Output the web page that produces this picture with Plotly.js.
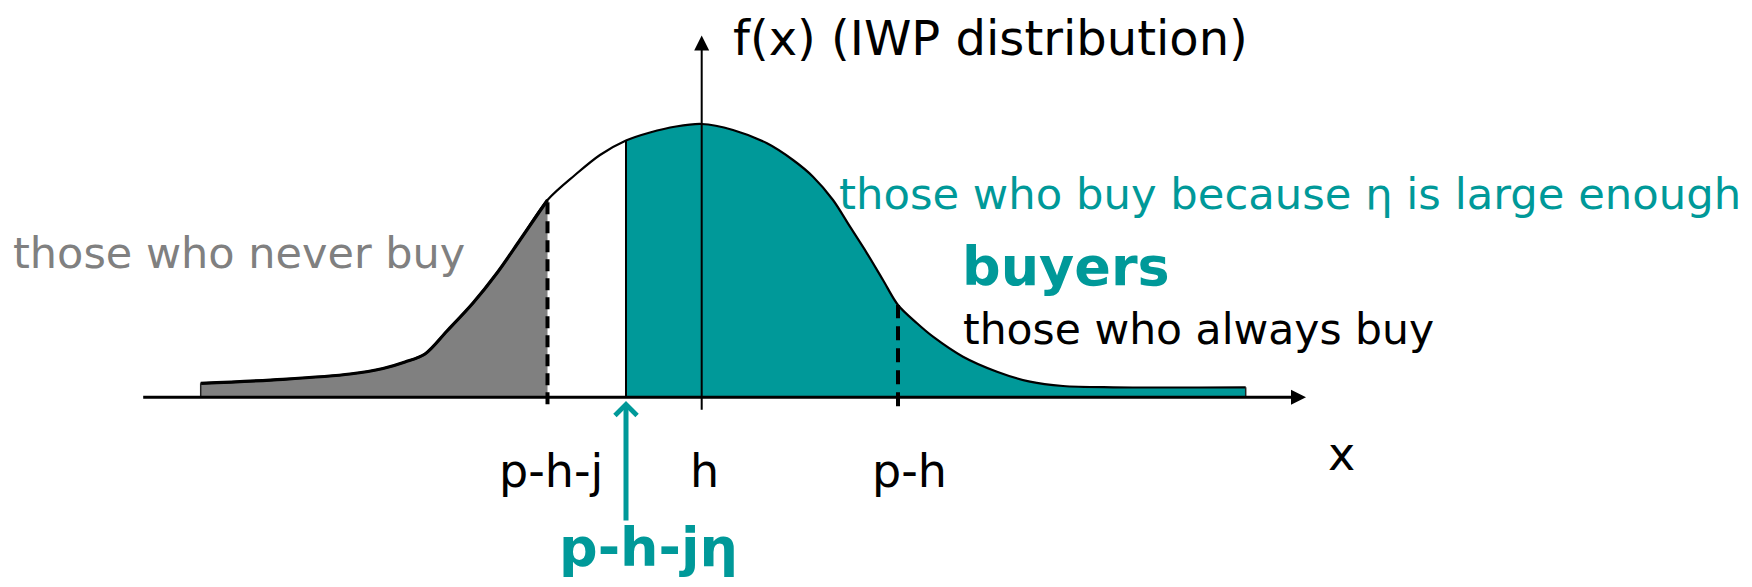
<!DOCTYPE html>
<html><head><meta charset="utf-8">
<script src="https://cdn.plot.ly/plotly-3.0.1.min.js"></script>
<style>html,body{margin:0;padding:0;background:#fff;} #chart{width:1752px;height:587px;}</style>
</head><body><div id="chart"></div>
<script>
const curveX = [-5.01,-4.187,-3.517,-3.187,-2.967,-2.767,-2.547,-2.287,-2.047,-1.817,-1.542,-1.267,-1.017,-0.757,-0.517,-0.257,0,0.313,0.653,0.913,1.113,1.313,1.483,1.653,1.813,1.963,2.153,2.313,2.613,2.953,3.283,3.613,4.113,5.44];
const curveF = [0.14,0.18,0.233,0.288,0.353,0.433,0.663,0.943,1.243,1.573,1.973,2.223,2.423,2.568,2.648,2.708,2.733,2.673,2.54,2.373,2.206,1.973,1.706,1.44,1.173,0.923,0.74,0.606,0.406,0.256,0.156,0.113,0.1,0.1];
// cut points on the x axis
const cutNames = ["p-h-j", "p-h-jη", "h", "p-h"];
const cutX = [-1.542, -0.757, 0, 1.963];
// tick labels under the axis
const tickLabels = ["p-h-j", "h", "p-h"];
const tickAt = [-1.542, 0, 1.963];
// region texts
const textNever = "those who never buy";
const textEta = "those who buy because η is large enough";
const textBuyers = "buyers";
const textAlways = "those who always buy";
const yTitle = "f(x) (IWP distribution)";
const xTitle = "x";

const TEAL = "#009999", GRAY = "#808080", FONT = "DejaVu Sans";
const SM = 0.9;

function fAt(c){
  let best = 0;
  curveX.forEach((v,i)=>{ if (Math.abs(v-c) < Math.abs(curveX[best]-c)) best = i; });
  return curveF[best];
}
function sub(pred){
  const xs=[], ys=[];
  curveX.forEach((v,i)=>{ if(pred(v)){ xs.push(v); ys.push(curveF[i]); } });
  return {xs, ys};
}
const grayPart = sub(v => v <= cutX[0] + 1e-9);
const tealPart = sub(v => v >= cutX[1] - 1e-9);

const traces = [
  {x: grayPart.xs, y: grayPart.ys, mode:"none", fill:"tozeroy", fillcolor:GRAY, line:{shape:"spline", smoothing:SM}, hoverinfo:"skip"},
  {x: tealPart.xs, y: tealPart.ys, mode:"none", fill:"tozeroy", fillcolor:TEAL, line:{shape:"spline", smoothing:SM}, hoverinfo:"skip"},
  {x: curveX, y: curveF, mode:"lines", line:{color:"black", width:2.2, shape:"spline", smoothing:SM}, hoverinfo:"skip"},
  {x: grayPart.xs, y: grayPart.ys, mode:"lines", line:{color:"black", width:3.2, shape:"spline", smoothing:SM}, hoverinfo:"skip"},
  // left edge of grey tail and right edge of teal tail
  {x:[curveX[0],curveX[0]], y:[0, curveF[0]], mode:"lines", line:{color:"#222", width:1.5}, hoverinfo:"skip"},
  {x:[curveX[curveX.length-1],curveX[curveX.length-1]], y:[0, curveF[curveF.length-1]], mode:"lines", line:{color:"#222", width:1.5}, hoverinfo:"skip"},
  // dashed cut lines
  {x:[cutX[0],cutX[0]], y:[-0.07, fAt(cutX[0])], mode:"lines", line:{color:"black", width:4, dash:"12px,7px"}, hoverinfo:"skip"},
  {x:[cutX[3],cutX[3]], y:[-0.09, fAt(cutX[3])], mode:"lines", line:{color:"black", width:4, dash:"14px,8px"}, hoverinfo:"skip"},
  // solid cut line at p-h-j eta
  {x:[cutX[1],cutX[1]], y:[0, fAt(cutX[1])], mode:"lines", line:{color:"black", width:2}, hoverinfo:"skip"}
];

const ann = [];
// x axis arrow
ann.push({x:6.043, y:0, ax:-5.6, ay:0, axref:"x", ayref:"y", xref:"x", yref:"y", text:"", showarrow:true, arrowhead:2, arrowsize:1, arrowwidth:3, arrowcolor:"black", standoff:0});
// y axis arrow
ann.push({x:cutX[2], y:3.617, ax:cutX[2], ay:-0.14, axref:"x", ayref:"y", xref:"x", yref:"y", text:"", showarrow:true, arrowhead:2, arrowsize:1.5, arrowwidth:2, arrowcolor:"black", standoff:0});
// teal arrow pointing at p-h-j eta
ann.push({x:cutX[1], y:-0.037, ax:cutX[1], ay:-1.247, axref:"x", ayref:"y", xref:"x", yref:"y", text:"", showarrow:true, arrowhead:4, arrowsize:0.85, arrowwidth:5, arrowcolor:TEAL, standoff:0});

const shifts = [3, 3, 11];
tickLabels.forEach((t,i)=>{
  ann.push({x:tickAt[i], y:-0.737, xref:"x", yref:"y", text:t, showarrow:false, xanchor:"center", yanchor:"middle", xshift:shifts[i], font:{family:FONT, size:46, color:"black"}});
});
ann.push({x:cutX[1], y:-1.50, xref:"x", yref:"y", text:"<b>"+cutNames[1]+"</b>", showarrow:false, xanchor:"center", yanchor:"middle", xshift:22, font:{family:FONT, size:54, color:TEAL}});
ann.push({x:6.393, y:-0.567, xref:"x", yref:"y", text:xTitle, showarrow:false, xanchor:"center", yanchor:"middle", font:{family:FONT, size:46, color:"black"}});
ann.push({x:0.29, y:3.59, xref:"x", yref:"y", text:yTitle, showarrow:false, xanchor:"left", yanchor:"middle", font:{family:FONT, size:48, color:"black"}});
ann.push({x:-6.907, y:1.443, xref:"x", yref:"y", text:textNever, showarrow:false, xanchor:"left", yanchor:"middle", font:{family:FONT, size:43, color:GRAY}});
ann.push({x:1.355, y:2.033, xref:"x", yref:"y", text:textEta, showarrow:false, xanchor:"left", yanchor:"middle", font:{family:FONT, size:43.3, color:TEAL}});
ann.push({x:2.585, y:1.31, xref:"x", yref:"y", text:"<b>"+textBuyers+"</b>", showarrow:false, xanchor:"left", yanchor:"middle", font:{family:FONT, size:54, color:TEAL}});
ann.push({x:2.595, y:0.678, xref:"x", yref:"y", text:textAlways, showarrow:false, xanchor:"left", yanchor:"middle", font:{family:FONT, size:42.5, color:"black"}});

const layout = {
  width:1752, height:587,
  margin:{l:0, r:0, t:0, b:0, pad:0},
  paper_bgcolor:"white", plot_bgcolor:"white",
  showlegend:false,
  xaxis:{range:[-7.017, 10.503], visible:false, showgrid:false, zeroline:false, fixedrange:true},
  yaxis:{range:[-1.897, 3.973], visible:false, showgrid:false, zeroline:false, fixedrange:true},
  annotations: ann
};
Plotly.newPlot("chart", traces, layout, {staticPlot:true, displayModeBar:false});
</script>
</body></html>
